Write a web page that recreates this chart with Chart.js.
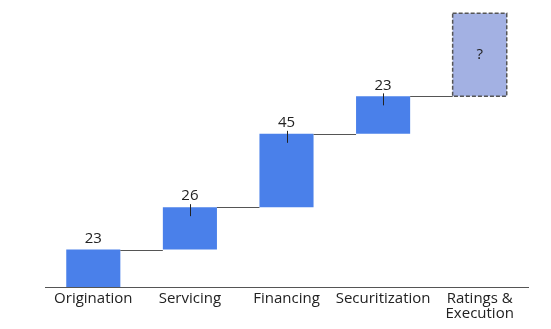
<!DOCTYPE html>
<html>
<head>
<meta charset="utf-8">
<script src="https://cdn.jsdelivr.net/npm/chart.js@4"></script>
<style>
  html, body { margin: 0; padding: 0; background: #fff; }
  #wrap { width: 551px; height: 329px; }
</style>
</head>
<body>
<div id="wrap"><canvas id="stepChart" width="551" height="329"></canvas></div>
<script>
// Waterfall steps
const categories = ["Origination", "Servicing", "Financing", "Securitization", ["Ratings &", "Execution"]];
const stepValues = [23, 26, 45, 23, 51];
const stepLabels = ["23", "26", "45", "23", "?"];
const tickedSteps = [false, true, true, true, false];

// Build the floating [start, end] ranges from the step sizes
let running = 0;
const ranges = stepValues.map((v) => {
  const r = [running, running + v];
  running += v;
  return r;
});

const barBlue = "#4a80ea";
const pendingFill = "#a3b1e3";
const lastIdx = stepValues.length - 1;

const waterfallExtras = {
  id: "waterfallExtras",
  afterDatasetsDraw(chart) {
    const ctx = chart.ctx;
    const bars = chart.getDatasetMeta(0).data;
    ctx.save();

    // connectors between neighbouring bars
    ctx.strokeStyle = "#555";
    ctx.lineWidth = 1;
    for (let i = 0; i < bars.length - 1; i++) {
      const a = bars[i], b = bars[i + 1];
      const y = Math.round(a.y) + 0.5;
      ctx.beginPath();
      ctx.moveTo(a.x + a.width / 2, y);
      ctx.lineTo(b.x - b.width / 2, y);
      ctx.stroke();
    }

    // dashed outline round the pending step
    const p = bars[lastIdx];
    ctx.strokeStyle = "#555";
    ctx.lineWidth = 1.5;
    ctx.setLineDash([4, 2]);
    ctx.strokeRect(p.x - p.width / 2, p.y, p.width, p.base - p.y);
    ctx.setLineDash([]);

    ctx.font = "15px 'Open Sans', sans-serif";
    ctx.fillStyle = "#222";
    ctx.textAlign = "center";
    ctx.textBaseline = "middle";
    bars.forEach((bar, i) => {
      if (i === lastIdx) {
        ctx.fillText(stepLabels[i], bar.x, (bar.y + bar.base) / 2);
        return;
      }
      ctx.fillText(stepLabels[i], bar.x, bar.y - 11);
      if (tickedSteps[i]) {
        ctx.strokeStyle = "#222";
        ctx.lineWidth = 1;
        ctx.beginPath();
        ctx.moveTo(Math.round(bar.x) + 0.5, bar.y - 3);
        ctx.lineTo(Math.round(bar.x) + 0.5, bar.y + 9);
        ctx.stroke();
      }
    });
    ctx.restore();
  },
};

new Chart(document.getElementById("stepChart"), {
  type: "bar",
  data: {
    labels: categories,
    datasets: [
      {
        data: ranges,
        backgroundColor: stepValues.map((v, i) => (i === lastIdx ? pendingFill : barBlue)),
        borderWidth: 0,
        borderSkipped: false,
        categoryPercentage: 1,
        barPercentage: 0.56,
      },
    ],
  },
  options: {
    responsive: false,
    animation: false,
    layout: { padding: { left: 45, right: 23, top: 10, bottom: 4 } },
    plugins: { legend: { display: false }, tooltip: { enabled: false } },
    scales: {
      x: {
        grid: { display: false, drawTicks: false, tickLength: 0 },
        border: { color: "#555", width: 1 },
        ticks: {
          color: "#222",
          font: { family: "'Open Sans', sans-serif", size: 15, lineHeight: 1.0 },
          autoSkip: false,
          maxRotation: 0,
          padding: 4,
        },
      },
      y: {
        display: false,
        min: 0,
        max: 170,
      },
    },
  },
  plugins: [waterfallExtras],
});
</script>
</body>
</html>
